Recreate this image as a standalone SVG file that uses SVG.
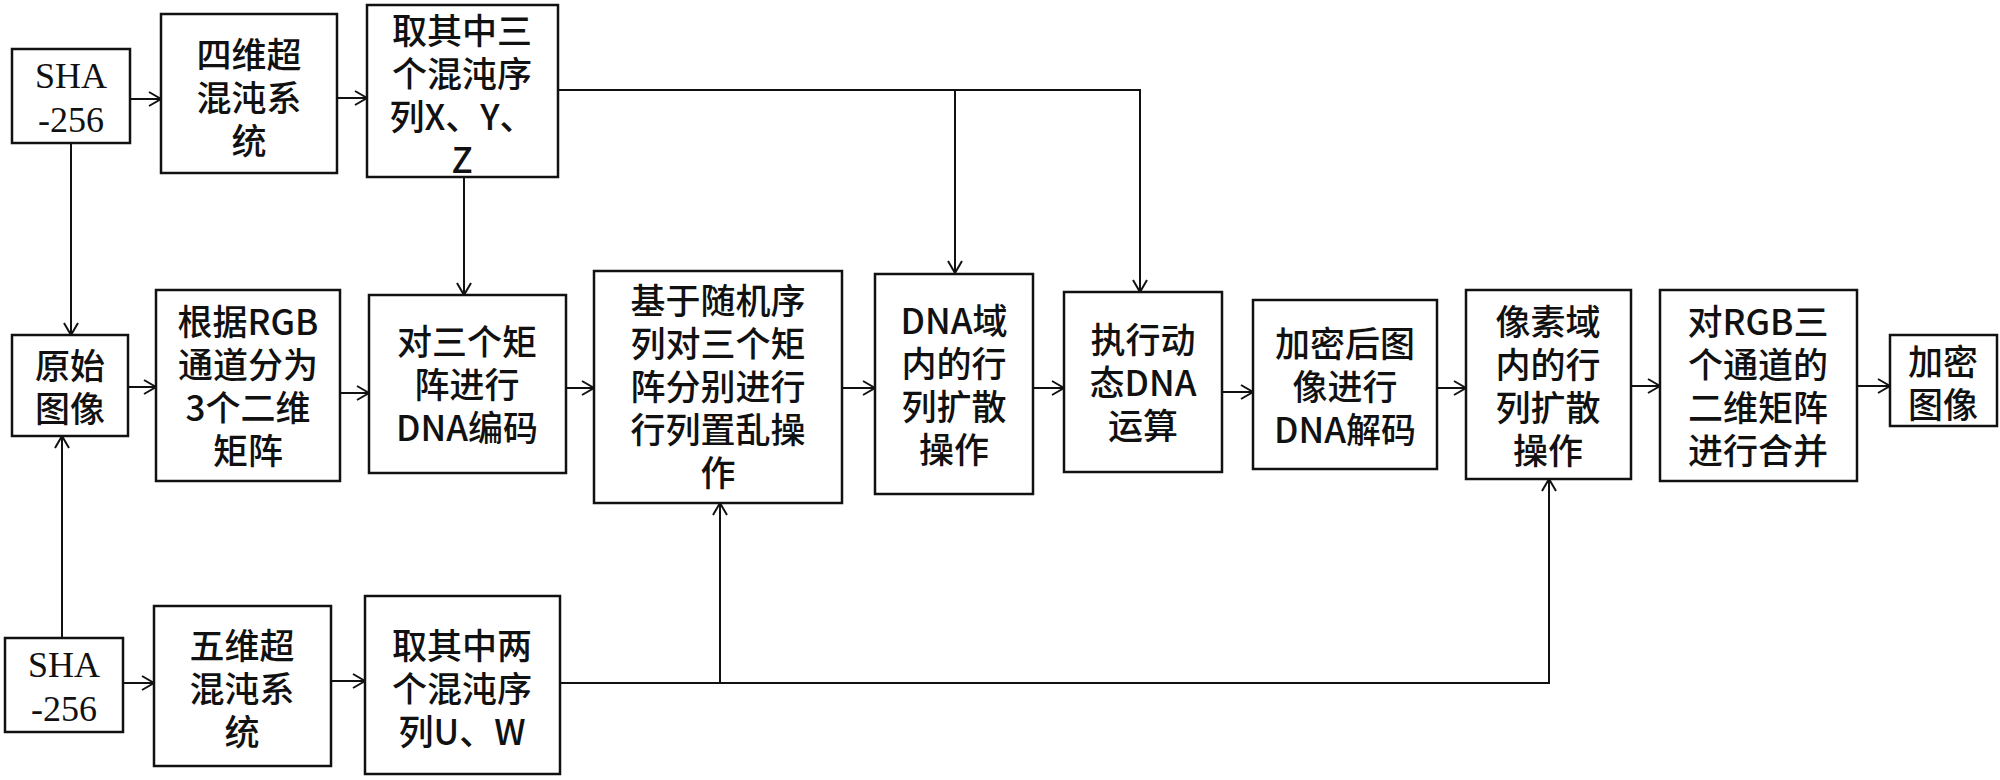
<svg xmlns="http://www.w3.org/2000/svg" width="2000" height="780" viewBox="0 0 2000 780">
<defs>
<marker id="arr" markerUnits="userSpaceOnUse" markerWidth="16" markerHeight="18" refX="14" refY="9" orient="auto">
<path d="M2,2 L14,9 L2,16" fill="none" stroke="#111" stroke-width="2"/>
</marker>
<style>
.box{fill:#fff;stroke:#111;stroke-width:2.5}
.t{font-family:"Noto Sans CJK SC","Noto Sans",sans-serif;font-size:35px;font-weight:500;fill:#111;text-anchor:middle}
.s{font-family:"Liberation Serif","Times New Roman",serif;font-size:36px;fill:#111;text-anchor:middle}
.c{fill:none;stroke:#111;stroke-width:2}
</style>
</defs>
<rect width="2000" height="780" fill="#fff"/>
<g id="connectors">
<line class="c" x1="130" y1="99" x2="161" y2="99" marker-end="url(#arr)"/>
<line class="c" x1="337" y1="98" x2="367" y2="98" marker-end="url(#arr)"/>
<line class="c" x1="71" y1="143" x2="71" y2="335" marker-end="url(#arr)"/>
<line class="c" x1="62" y1="638" x2="62" y2="436" marker-end="url(#arr)"/>
<line class="c" x1="128" y1="387" x2="156" y2="387" marker-end="url(#arr)"/>
<line class="c" x1="340" y1="393" x2="369" y2="393" marker-end="url(#arr)"/>
<line class="c" x1="464" y1="177" x2="464" y2="295" marker-end="url(#arr)"/>
<line class="c" x1="566" y1="388" x2="594" y2="388" marker-end="url(#arr)"/>
<line class="c" x1="842" y1="388" x2="875" y2="388" marker-end="url(#arr)"/>
<line class="c" x1="1033" y1="388" x2="1064" y2="388" marker-end="url(#arr)"/>
<line class="c" x1="1222" y1="392" x2="1253" y2="392" marker-end="url(#arr)"/>
<line class="c" x1="1437" y1="388" x2="1466" y2="388" marker-end="url(#arr)"/>
<line class="c" x1="1631" y1="386" x2="1660" y2="386" marker-end="url(#arr)"/>
<line class="c" x1="1857" y1="386" x2="1890" y2="386" marker-end="url(#arr)"/>
<polyline class="c" points="558,90 1140,90 1140,292" marker-end="url(#arr)"/>
<line class="c" x1="955" y1="90" x2="955" y2="273" marker-end="url(#arr)"/>
<line class="c" x1="123" y1="683" x2="154" y2="683" marker-end="url(#arr)"/>
<line class="c" x1="331" y1="681" x2="365" y2="681" marker-end="url(#arr)"/>
<polyline class="c" points="560,683 1549,683 1549,479" marker-end="url(#arr)"/>
<line class="c" x1="720" y1="683" x2="720" y2="503" marker-end="url(#arr)"/>
</g>
<g id="sha1"><rect class="box" x="12" y="49" width="118" height="94"/><text class="s"><tspan x="71" y="88">SHA</tspan><tspan x="71" y="132">-256</tspan></text></g>
<g id="four-d"><rect class="box" x="161" y="14" width="176" height="159"/><text class="t"><tspan x="249" y="68">四维超</tspan><tspan x="249" y="111">混沌系</tspan><tspan x="249" y="154">统</tspan></text></g>
<g id="xyz"><rect class="box" x="367" y="5" width="191" height="172"/><text class="t"><tspan x="462" y="44">取其中三</tspan><tspan x="462" y="87">个混沌序</tspan><tspan x="462" y="130">列X、Y、</tspan><tspan x="462" y="173">Z</tspan></text></g>
<g id="orig"><rect class="box" x="12" y="335" width="116" height="101"/><text class="t"><tspan x="70" y="379">原始</tspan><tspan x="70" y="422">图像</tspan></text></g>
<g id="rgb-split"><rect class="box" x="156" y="290" width="184" height="191"/><text class="t"><tspan x="248" y="335">根据RGB</tspan><tspan x="248" y="378">通道分为</tspan><tspan x="248" y="421">3个二维</tspan><tspan x="248" y="464">矩阵</tspan></text></g>
<g id="dna-encode"><rect class="box" x="369" y="295" width="197" height="178"/><text class="t"><tspan x="467" y="355">对三个矩</tspan><tspan x="467" y="398">阵进行</tspan><tspan x="467" y="441">DNA编码</tspan></text></g>
<g id="permute"><rect class="box" x="594" y="271" width="248" height="232"/><text class="t"><tspan x="718" y="314">基于随机序</tspan><tspan x="718" y="357">列对三个矩</tspan><tspan x="718" y="400">阵分别进行</tspan><tspan x="718" y="443">行列置乱操</tspan><tspan x="718" y="486">作</tspan></text></g>
<g id="dna-diffuse"><rect class="box" x="875" y="274" width="158" height="220"/><text class="t"><tspan x="954" y="334">DNA域</tspan><tspan x="954" y="377">内的行</tspan><tspan x="954" y="420">列扩散</tspan><tspan x="954" y="463">操作</tspan></text></g>
<g id="dna-op"><rect class="box" x="1064" y="292" width="158" height="180"/><text class="t"><tspan x="1143" y="353">执行动</tspan><tspan x="1143" y="396">态DNA</tspan><tspan x="1143" y="439">运算</tspan></text></g>
<g id="dna-decode"><rect class="box" x="1253" y="300" width="184" height="169"/><text class="t"><tspan x="1345" y="357">加密后图</tspan><tspan x="1345" y="400">像进行</tspan><tspan x="1345" y="443">DNA解码</tspan></text></g>
<g id="pixel-diffuse"><rect class="box" x="1466" y="290" width="165" height="189"/><text class="t"><tspan x="1548" y="335">像素域</tspan><tspan x="1548" y="378">内的行</tspan><tspan x="1548" y="421">列扩散</tspan><tspan x="1548" y="464">操作</tspan></text></g>
<g id="merge"><rect class="box" x="1660" y="290" width="197" height="191"/><text class="t"><tspan x="1758" y="335">对RGB三</tspan><tspan x="1758" y="378">个通道的</tspan><tspan x="1758" y="421">二维矩阵</tspan><tspan x="1758" y="464">进行合并</tspan></text></g>
<g id="encrypted"><rect class="box" x="1890" y="335" width="107" height="91"/><text class="t"><tspan x="1943" y="375">加密</tspan><tspan x="1943" y="418">图像</tspan></text></g>
<g id="sha2"><rect class="box" x="5" y="638" width="118" height="94"/><text class="s"><tspan x="64" y="677">SHA</tspan><tspan x="64" y="721">-256</tspan></text></g>
<g id="five-d"><rect class="box" x="154" y="606" width="177" height="160"/><text class="t"><tspan x="242" y="659">五维超</tspan><tspan x="242" y="702">混沌系</tspan><tspan x="242" y="745">统</tspan></text></g>
<g id="uw"><rect class="box" x="365" y="596" width="195" height="178"/><text class="t"><tspan x="462" y="659">取其中两</tspan><tspan x="462" y="702">个混沌序</tspan><tspan x="462" y="745">列U、W</tspan></text></g>
</svg>
